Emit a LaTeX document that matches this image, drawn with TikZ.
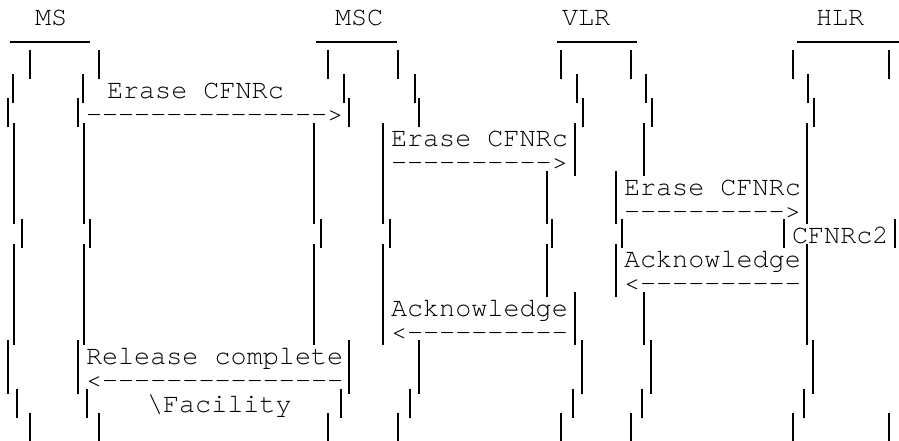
\documentclass[tikz,border=0pt]{standalone}
\usepackage{fontspec}
\setmonofont{TeX Gyre Cursor}
\begin{document}
\begin{tikzpicture}[x=1pt,y=-1pt,
  txt/.style={anchor=base west,inner sep=0pt,outer sep=0pt,font=\ttfamily\fontsize{26.8}{28}\selectfont,text=black},
  barline/.style={line width=1.5pt,black},
  underline/.style={line width=1.8pt,black}]
\useasboundingbox[fill=white] (0,0) rectangle (899,441);
% headers
\node[txt] (hms)  at (35,26)  {MS};
\node[txt] (hmsc) at (335,26) {MSC};
\node[txt] (hvlr) at (562,26) {VLR};
\node[txt] (hhlr) at (816,26) {HLR};
\draw[underline] (10,42) -- (90,42);
\draw[underline] (316,42) -- (397,42);
\draw[underline] (557,42) -- (637,42);
\draw[underline] (797,42) -- (899,42);
% vertical bar pieces: row/x
\foreach \r/\x in {
 0/30,0/99,0/328,0/398,0/561,0/631,0/793,0/889,
 1/13,1/83,1/344,1/415,1/577,1/646,1/808,
 2/8,2/78,2/349,2/419,2/583,2/652,2/814,
 3/14,3/84,3/314,3/383,3/575,3/644,3/807,
 4/14,4/84,4/314,4/383,4/575,4/644,4/807,
 5/14,5/84,5/314,5/383,5/547,5/616,5/807,
 6/14,6/84,6/314,6/383,6/547,6/616,6/807,
 7/22,7/90,7/321,7/390,7/552,7/622,7/784,7/895,
 8/14,8/84,8/314,8/383,8/547,8/616,8/807,
 9/14,9/84,9/314,9/383,9/547,9/616,9/807,
 10/14,10/84,10/314,10/383,10/575,10/644,10/807,
 11/14,11/84,11/314,11/383,11/575,11/644,11/807,
 12/8,12/78,12/349,12/419,12/582,12/651,12/813,
 13/8,13/78,13/349,13/419,13/582,13/651,13/813,
 14/17,14/87,14/341,14/410,14/573,14/642,14/804,
 15/30,15/99,15/328,15/398,15/561,15/631,15/793,15/889}
 {\draw[barline] (\x,{50+24.2*\r}) -- ++(0,29);}
% messages (baseline = 74 + 24.2 r)
\node[txt] (m1l) at (107,98.2)  {Erase CFNRc};
\node[txt] (m1a) at (86,122.4)  {--------------->};
\node[txt] (m2l) at (391,146.6) {Erase CFNRc};
\node[txt] (m2a) at (391,170.8) {---------->};
\node[txt] (m3l) at (624,195)   {Erase CFNRc};
\node[txt] (m3a) at (624,219.2) {---------->};
\node[txt] (c2)  at (792,243.4) {CFNRc2};
\node[txt] (m4l) at (624,267.6) {Acknowledge};
\node[txt] (m4a) at (624,291.8) {<----------};
\node[txt] (m5l) at (391,316)   {Acknowledge};
\node[txt] (m5a) at (391,340.2) {<----------};
\node[txt] (m6l) at (86,364.4)  {Release complete};
\node[txt] (m6a) at (86,388.6)  {<---------------};
\node[txt] (fac) at (147,412.8) {\textbackslash Facility};
\end{tikzpicture}
\end{document}
